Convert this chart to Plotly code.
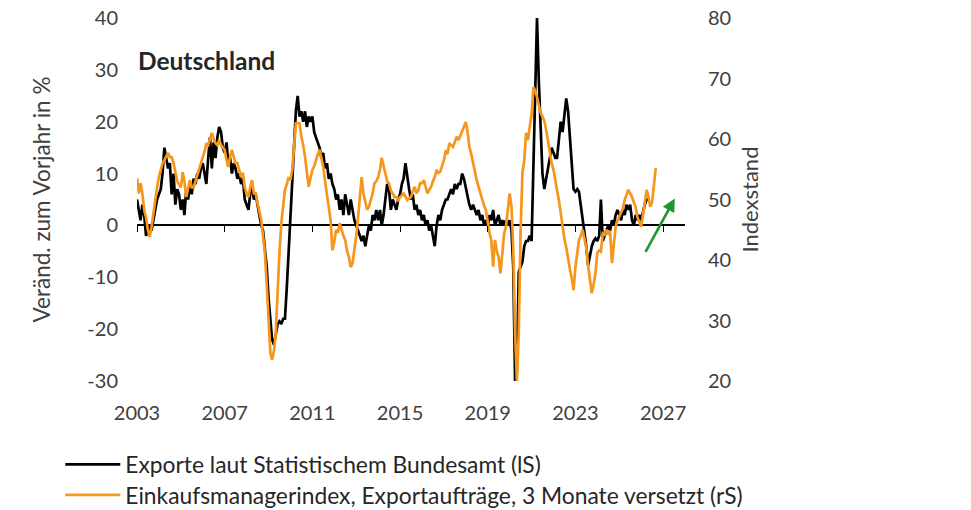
import pandas as pd
import plotly.graph_objects as go

# Exporte laut Statistischem Bundesamt, Veränderung zum Vorjahr in % (monatlich ab Jan 2003)
exports_yoy = [
    5, 3, 1, 4, 2, -2, -1, 0, -1, 1, 3, 5,            # 2003
    6, 7, 10, 15, 13, 11, 12, 6, 10, 4, 7, 6,          # 2004
    3, 5, 2, 7, 5, 8, 6, 9, 8, 10, 9, 11,              # 2005
    12, 10, 8, 13, 17, 11, 16, 13, 17, 19, 18, 15,     # 2006
    14, 16, 12, 13, 10, 12, 11, 9, 10, 8, 9, 5,        # 2007
    4, 3, 6, 8, 5, 6, 4, 2, 0, -1, -4, -8,             # 2008
    -14, -19, -22, -23, -21, -19, -18.5, -19, -18, -18, -12, -5,  # 2009
    2, 9, 17, 22, 25, 21, 22, 20, 22, 19, 21, 20,      # 2010
    21, 18, 17, 16, 15, 13, 14, 11, 12, 9, 10, 8,      # 2011
    7, 5, 6, 3, 5, 2, 6, 4, 2, 5, 3, 1,                # 2012
    0, -1, -2, -3, -2, -4, -2, 0, -1, 2, 1, 3,         # 2013
    1, 3, 0, 2, 5, 8, 7, 3, 5, 4, 3, 5,                # 2014
    6, 8, 9, 12, 9, 7, 5, 6, 3, 4, 2, 3,               # 2015
    1, 2, 0, 1, -1, 0, -2, -4, 0, 2, 1, 3,             # 2016
    4, 5, 5, 6, 7, 6, 8, 7, 8, 8, 10, 9,               # 2017
    7, 5, 4, 3, 4, 3, 2, 3, 1, 2, 0, 1,                # 2018
    0, 2, 1, 3, 0, 1, 2, 0, 1, 0, 1, 0,                # 2019
    1, -1, -8, -30, -28, -9, -8, -7, -4, -3, -3, -2,   # 2020
    -3, 13, 28, 40, 28, 19, 10, 7, 9, 11, 13, 15,      # 2021
    14, 13, 13, 16, 20, 18, 21, 24.5, 22, 17, 12, 7,   # 2022
    6.5, 7, 6.5, 4, 1, -1, -4, -7.7, -6, -4, -3, -2.5, # 2023
    -3, -2, 5, -3, -2, -1, 0, -1, 1, 0, 2, 3,          # 2024
    2, 1, 3, 2, 4, 3, 4, 1, 0, 2, 1, 2,                # 2025
    1, 3, 4, 5, 5,                                     # 2026
]

# Einkaufsmanagerindex, Exportaufträge, 3 Monate versetzt (Indexstand, monatlich ab Jan 2003)
pmi_export_orders = [
    53.5, 51, 52.7, 51, 48.3, 47, 45, 43.8, 45.5, 47.8, 50, 52,        # 2003
    53.7, 55, 56, 56.5, 57, 57.7, 57, 57, 56, 54.4, 53, 52.5,          # 2004
    52, 54.5, 53, 50.4, 52, 53.2, 52, 52, 53, 54, 55.4, 56,            # 2005
    57, 58, 59.3, 59, 60, 61, 60, 59.3, 59, 59.8, 59, 58.5,            # 2006
    58.2, 56.5, 55.4, 57, 58.2, 57, 56, 56, 55, 53.7, 54.4, 52,        # 2007
    51, 50.4, 52, 53.2, 51, 51, 49.4, 48, 46.6, 44, 41.2, 36,          # 2008
    31.2, 24.6, 23.5, 25, 27.9, 35, 41.1, 46, 48.8, 51.6, 52.5, 53.7,  # 2009
    53.2, 55, 58.7, 62.6, 62.6, 62.6, 60.4, 59, 57, 54, 52.1, 53.5,    # 2010
    54.9, 55.5, 56.5, 57.5, 58.2, 57, 55.4, 53, 51, 48.5, 46.6, 41.6,  # 2011
    43, 45, 44.5, 46.1, 45, 44, 43.3, 41.5, 40.5, 38.8, 39.5, 41.6,    # 2012
    44, 47.1, 50, 53.7, 51, 49.4, 48.3, 48.8, 49.9, 51, 52.7, 53,      # 2013
    53.7, 55, 56.9, 55.5, 54.4, 53, 52.7, 51.5, 51, 50.4, 50.4, 49.9,  # 2014
    50.4, 50.8, 51, 50.5, 49.9, 50.2, 50.4, 51.3, 52.1, 51, 51.5, 52.7, # 2015
    52.7, 53.2, 52, 51, 51.6, 52.1, 53, 53.7, 54.9, 54.4, 54.6, 55.5,  # 2016
    56.5, 58.2, 57.5, 59.3, 59, 58.7, 59.5, 60.4, 59.8, 60.5, 61.2, 62, # 2017
    62.8, 61, 58.7, 57.5, 56, 54.5, 53.2, 52.1, 51, 49.9, 49, 48.3,    # 2018
    46.1, 44.4, 43.3, 38.9, 43.3, 41.5, 40.5, 37.8, 41, 44.4, 45.5, 48, # 2019
    51, 48.8, 42, 27.9, 20, 27.9, 44.4, 54.4, 56.5, 61, 59.8, 62,      # 2020
    64, 68.6, 68, 66.9, 65.5, 64.3, 63.7, 63, 61.5, 59.5, 57.7, 56,    # 2021
    54.9, 52.7, 51.5, 49.9, 47.5, 45.5, 43.5, 42.1, 40, 38.5, 37, 35,  # 2022
    38.8, 41, 43.3, 44, 45, 43.5, 42.1, 39, 36.2, 34.5, 36, 37.8,      # 2023
    41.2, 41.6, 41.4, 44.4, 44.2, 45, 44.4, 44.8, 39.5, 43, 45.5, 46.5, # 2024
    47.1, 47.8, 48.5, 49.9, 50.8, 51.6, 51, 50.4, 49.5, 48.8, 47, 46.3, # 2025
    45.5, 47.5, 49.4, 51.6, 50.4, 48.8, 49.5, 52, 55.2,                # 2026
]

start_month = "2003-01-01"
x_range = ["2003-01-01", "2028-01-01"]

left_ticks = [-30, -20, -10, 0, 10, 20, 30, 40]
right_ticks = [20, 30, 40, 50, 60, 70, 80]

# Pfeil (Trend) in Datenkoordinaten der linken Achse
arrow_tail = ("2026-03-01", -5.4)
arrow_head = ("2027-07-15", 5.2)

dates_exports = pd.date_range(start_month, periods=len(exports_yoy), freq="MS")
dates_pmi = pd.date_range(start_month, periods=len(pmi_export_orders), freq="MS")

FONT = "Lato"
TXT = "#404040"

fig = go.Figure()

fig.add_trace(go.Scatter(
    x=dates_exports, y=exports_yoy,
    name="Exporte laut Statistischem Bundesamt (lS)",
    mode="lines", line=dict(color="#000000", width=2.7),
    legend="legend", showlegend=True,
))

fig.add_trace(go.Scatter(
    x=dates_pmi, y=pmi_export_orders,
    name="Einkaufsmanagerindex, Exportaufträge, 3 Monate versetzt (rS)",
    mode="lines", line=dict(color="#F7961C", width=2.7),
    xaxis="x2", yaxis="y2",
    legend="legend2", showlegend=True,
))

fig.add_annotation(
    x=arrow_head[0], y=arrow_head[1], ax=arrow_tail[0], ay=arrow_tail[1],
    xref="x", yref="y", axref="x", ayref="y",
    text="", showarrow=True, arrowhead=2, arrowsize=1, arrowwidth=2.6,
    arrowcolor="#1E9632",
)

fig.add_annotation(
    x=-0.002, y=0.884, xref="paper", yref="paper", xanchor="left", yanchor="middle",
    text="<b>Deutschland</b>", showarrow=False,
    font=dict(family=FONT, size=24.5, color="#262626"),
)

# Seite hat 8px Rand -> Figur entsprechend kleiner
fig.update_layout(
    width=963, height=502,
    margin=dict(l=129, r=286, t=10, b=129, autoexpand=False),
    paper_bgcolor="white", plot_bgcolor="white",
    showlegend=True,
    font=dict(family=FONT, size=20, color=TXT),
    xaxis=dict(
        type="date", range=x_range, tick0=start_month, dtick="M48",
        tickformat="%Y", showgrid=False, zeroline=False, showline=False,
        ticks="", ticklabelstandoff=18, ticklabeloverflow="allow",
        tickfont=dict(family=FONT, size=20, color=TXT),
    ),
    xaxis2=dict(
        type="date", range=x_range, tick0=start_month, dtick="M48",
        overlaying="x", anchor="free", position=30 / 70,
        showgrid=False, zeroline=False, showline=False,
        ticks="outside", ticklen=6, tickwidth=1.3, tickcolor="#000000",
        showticklabels=False,
    ),
    yaxis=dict(
        range=[-30, 40], tickvals=left_ticks, ticktext=[str(v) for v in left_ticks],
        showgrid=False, showline=False,
        zeroline=True, zerolinecolor="#000000", zerolinewidth=1.5,
        ticks="", ticklabelstandoff=18, ticklabeloverflow="allow",
        title=dict(text="Veränd. zum Vorjahr in %", standoff=30,
                   font=dict(family=FONT, size=22.5, color=TXT)),
        tickfont=dict(family=FONT, size=20, color=TXT),
    ),
    yaxis2=dict(
        range=[20, 80], tickvals=right_ticks, ticktext=[str(v) for v in right_ticks],
        overlaying="y", side="right", anchor="x",
        showgrid=False, zeroline=False, showline=False,
        ticks="", ticklabelstandoff=22, ticklabeloverflow="allow",
        title=dict(text="Indexstand", standoff=12,
                   font=dict(family=FONT, size=22, color=TXT)),
        tickfont=dict(family=FONT, size=20, color=TXT),
    ),
    legend=dict(
        x=-0.14, y=-0.23, xanchor="left", yanchor="middle",
        font=dict(family=FONT, size=22.8, color="#262626"),
        bgcolor="rgba(0,0,0,0)", itemwidth=55,
    ),
    legend2=dict(
        x=-0.14, y=-0.314, xanchor="left", yanchor="middle",
        font=dict(family=FONT, size=22.8, color="#262626"),
        bgcolor="rgba(0,0,0,0)", itemwidth=55,
    ),
)

fig.write_html("out.html")
